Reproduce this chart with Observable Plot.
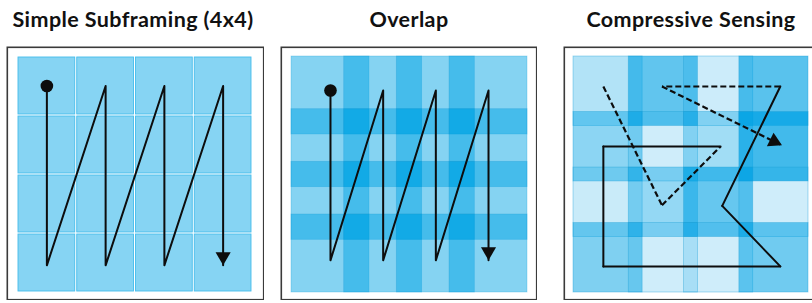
<!DOCTYPE html>
<html><head><meta charset="utf-8">
<script src="https://cdn.jsdelivr.net/npm/d3@7"></script>
<script src="https://cdn.jsdelivr.net/npm/@observablehq/plot@0.6"></script>
<style>
html,body{margin:0;padding:0;background:#fff;overflow:hidden;width:812px;height:303px}
#root{position:relative;width:812px;height:303px;overflow:hidden}
.title{position:absolute;top:8px;width:320px;margin-left:-160px;font-family:Lato,"Open Sans",sans-serif;font-weight:700;font-size:21.5px;letter-spacing:0.4px;line-height:22px;color:#111;text-align:center;white-space:nowrap}
.panel{position:absolute;top:46px}
.panel svg{display:block;max-width:none}
</style></head><body><div id="root"></div>
<script>
// ---- titles ----
const titles = ["Simple Subframing (4x4)", "Overlap", "Compressive Sensing"];
const titleCenters = [133, 409, 691];

// ---- panel 1: simple 4x4 subframing, raster scan ----
const gridIndex = [0, 1, 2, 3];
const p1PathX = [0.5, 0.5, 1.5, 1.5, 2.5, 2.5, 3.5, 3.5];
const p1PathY = [0.5, 3.54, 0.5, 3.54, 0.5, 3.54, 0.5, 3.54];

// ---- panel 2: overlapping subframes ----
const p2Size = 1.48;              // subframe size in steps
const p2PathX = [0.74, 0.74, 1.74, 1.74, 2.74, 2.74, 3.74, 3.74];
const p2PathY = [0.645, 3.87, 0.645, 3.87, 0.645, 3.87, 0.645, 3.87];

// ---- panel 3: compressive sensing, random subframe weights ----
const p3Size = 1.25;
const p3Weights = [
  [0.30, 0.62, 0.20, 0.65],
  [0.45, 0.19, 0.37, 0.74],
  [0.21, 0.42, 0.60, 0.19],
  [0.50, 0.19, 0.19, 0.56]
];
const p3PathX = [0.54, 1.60, 2.66, 0.54, 0.54, 3.74, 2.69, 3.74, 1.60, 3.77];
const p3PathY = [0.54, 2.68, 1.62, 1.62, 3.78, 3.78, 2.69, 0.54, 0.54, 1.60];
const p3Dashed = [true, true, false, false, false, false, false, true, true];

const root = document.getElementById("root");
titles.forEach((t, i) => {
  const d = document.createElement("div");
  d.className = "title";
  d.style.left = titleCenters[i] + "px";
  d.textContent = t;
  root.appendChild(d);
});

const BASE = "#00a2e4";
const INK = "#0d0d0d";

function framed(m) {
  return Plot.frame({stroke: "#3a3a3a", strokeWidth: 1.6,
    insetLeft: -(m.l - 0.8), insetRight: -(m.r - 0.8), insetTop: -(m.t - 0.8), insetBottom: -(m.b - 0.8)});
}
function toPts(xs, ys) { return xs.map((x, i) => ({x, y: ys[i]})); }
function arrowHead(pts, kx, ky, r) {
  const a = pts[pts.length - 2], b = pts[pts.length - 1];
  const ang = Math.atan2((b.y - a.y) * ky, (b.x - a.x) * kx);
  const back = r * Math.sqrt(Math.PI / (Math.sqrt(3) * 3)) * 2; // centroid-to-tip distance of d3 triangle
  return Plot.dot([b], {x: "x", y: "y", symbol: "triangle", r, fill: INK,
    rotate: ang * 180 / Math.PI + 90,
    dx: -back * Math.cos(ang), dy: -back * Math.sin(ang)});
}
function addPanel(left, svg) {
  const d = document.createElement("div");
  d.className = "panel";
  d.style.left = left + "px";
  d.appendChild(svg);
  root.appendChild(d);
}

// panel 1
{
  const m = {l: 11, r: 12, t: 10, b: 8};
  const W = 258, H = 254;
  const kx = (W - m.l - m.r) / 4, ky = (H - m.t - m.b) / 4;
  const cells = d3.cross(gridIndex, gridIndex).map(([r, c]) => ({r, c}));
  const path = toPts(p1PathX, p1PathY);
  addPanel(6, Plot.plot({
    width: W, height: H, marginLeft: m.l, marginRight: m.r, marginTop: m.t, marginBottom: m.b,
    x: {domain: [0, 4], axis: null}, y: {domain: [0, 4], reverse: true, axis: null},
    marks: [
      framed(m),
      Plot.rect(cells, {x1: "c", x2: d => d.c + 1, y1: "r", y2: d => d.r + 1, inset: 1,
        fill: "#86d4f3", stroke: "#45bdec", strokeWidth: 0.9}),
      Plot.line(path, {x: "x", y: "y", stroke: INK, strokeWidth: 2}),
      Plot.dot(path.slice(0, 1), {x: "x", y: "y", r: 6.3, fill: INK}),
      arrowHead(path, kx, ky, 5.6)
    ]
  }));
}

// panel 2
{
  const m = {l: 11, r: 10, t: 10, b: 8};
  const W = 257, H = 254;
  const dom = 3 + p2Size;
  const kx = (W - m.l - m.r) / dom, ky = (H - m.t - m.b) / dom;
  const subs = d3.cross(gridIndex, gridIndex).map(([r, c]) => ({r, c}));
  const path = toPts(p2PathX, p2PathY);
  addPanel(280, Plot.plot({
    width: W, height: H, marginLeft: m.l, marginRight: m.r, marginTop: m.t, marginBottom: m.b,
    x: {domain: [0, dom], axis: null}, y: {domain: [0, dom], reverse: true, axis: null},
    marks: [
      framed(m),
      Plot.rect(subs, {x1: "c", x2: d => d.c + p2Size, y1: "r", y2: d => d.r + p2Size,
        fill: BASE, fillOpacity: 0.48, stroke: "#1a9fd8", strokeOpacity: 0.35, strokeWidth: 0.8}),
      Plot.line(path, {x: "x", y: "y", stroke: INK, strokeWidth: 2}),
      Plot.dot(path.slice(0, 1), {x: "x", y: "y", r: 6.3, fill: INK}),
      arrowHead(path, kx, ky, 5.6)
    ]
  }));
}

// panel 3
{
  const m = {l: 10, r: 10, t: 10, b: 8};
  const W = 255, H = 254;
  const dom = 3 + p3Size;
  const kx = (W - m.l - m.r) / dom, ky = (H - m.t - m.b) / dom;
  const subs = d3.cross(gridIndex, gridIndex).map(([r, c]) => ({r, c, w: p3Weights[r][c]}));
  const pts = toPts(p3PathX, p3PathY);
  const segs = p3Dashed.map((dash, i) => ({x1: pts[i].x, y1: pts[i].y, x2: pts[i + 1].x, y2: pts[i + 1].y, dash}));
  addPanel(563, Plot.plot({
    width: W, height: H, marginLeft: m.l, marginRight: m.r, marginTop: m.t, marginBottom: m.b,
    x: {domain: [0, dom], axis: null}, y: {domain: [0, dom], reverse: true, axis: null},
    marks: [
      framed(m),
      Plot.rect(subs, {x1: "c", x2: d => d.c + p3Size, y1: "r", y2: d => d.r + p3Size,
        fill: BASE, fillOpacity: "w", stroke: "#1a9fd8", strokeOpacity: 0.45, strokeWidth: 0.8}),
      Plot.link(segs.filter(s => !s.dash), {x1: "x1", y1: "y1", x2: "x2", y2: "y2", stroke: INK, strokeWidth: 2, strokeLinecap: "round"}),
      Plot.link(segs.filter(s => s.dash), {x1: "x1", y1: "y1", x2: "x2", y2: "y2", stroke: INK, strokeWidth: 2.2, strokeDasharray: "6,3"}),
      arrowHead(pts, kx, ky, 5.6)
    ]
  }));
}
</script></body></html>
